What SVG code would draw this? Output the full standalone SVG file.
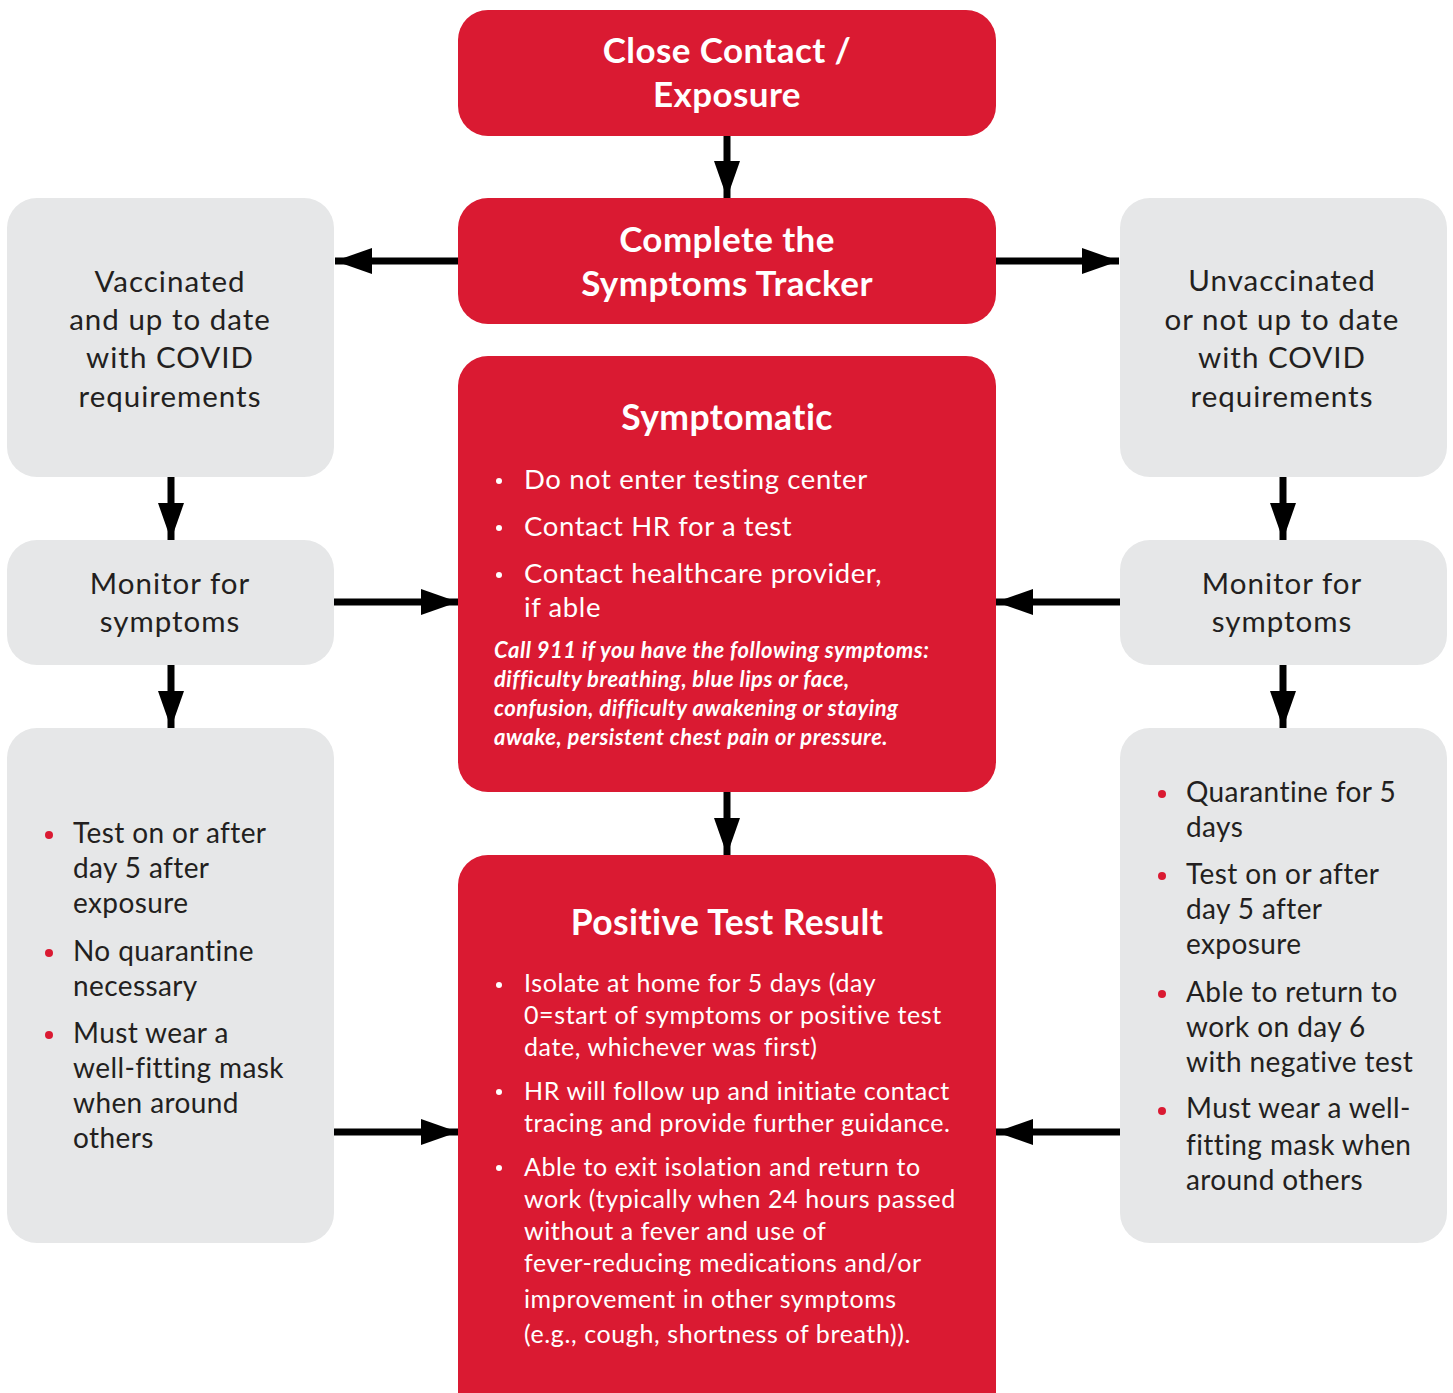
<svg xmlns="http://www.w3.org/2000/svg" width="1453" height="1393" viewBox="0 0 1453 1393">
<defs>
<style>
.red{fill:#DA1A32}
.gray{fill:#E6E7E8}
.title{font-family:Lato,"Noto Sans","Liberation Sans",sans-serif;font-weight:bold;fill:#fff;text-anchor:middle;letter-spacing:0.4px}
.gt{font-family:Lato,"Noto Sans","Liberation Sans",sans-serif;fill:#231F20;font-size:28px}
.gc{text-anchor:middle;font-size:29.5px;letter-spacing:1px}
.bl{font-size:28px;letter-spacing:0.4px}
.wt{font-family:Lato,"Noto Sans","Liberation Sans",sans-serif;fill:#fff}
.it{font-family:Lato,"Noto Sans","Liberation Sans",sans-serif;fill:#fff;font-style:italic;font-weight:bold;font-size:22px;letter-spacing:0.5px}
.conn{stroke:#000;stroke-width:7;fill:none;marker-end:url(#ah)}
</style>
<marker id="ah" markerUnits="userSpaceOnUse" markerWidth="37" markerHeight="26" refX="37" refY="13" orient="auto">
<path d="M0,0 L37,13 L0,26 z" fill="#000"/>
</marker>
</defs>
<rect width="1453" height="1393" fill="#fff"/>

<g id="connectors">
<line class="conn" x1="727" y1="136" x2="727" y2="198"/>
<line class="conn" x1="458" y1="261" x2="335" y2="261"/>
<line class="conn" x1="996" y1="261" x2="1119" y2="261"/>
<line class="conn" x1="171" y1="477" x2="171" y2="540"/>
<line class="conn" x1="1283" y1="477" x2="1283" y2="540"/>
<line class="conn" x1="334" y1="602" x2="458" y2="602"/>
<line class="conn" x1="1120" y1="602" x2="996" y2="602"/>
<line class="conn" x1="171" y1="665" x2="171" y2="728"/>
<line class="conn" x1="1283" y1="665" x2="1283" y2="728"/>
<line class="conn" x1="727" y1="792" x2="727" y2="855"/>
<line class="conn" x1="334" y1="1132" x2="458" y2="1132"/>
<line class="conn" x1="1120" y1="1132" x2="996" y2="1132"/>
</g>

<g id="close-contact">
<rect class="red" x="458" y="10" width="538" height="126" rx="30"/>
<text class="title" font-size="35" x="727" y="63">Close Contact /</text>
<text class="title" font-size="35" x="727" y="107">Exposure</text>
</g>

<g id="symptoms-tracker">
<rect class="red" x="458" y="198" width="538" height="126" rx="30"/>
<text class="title" font-size="35" x="727" y="252">Complete the</text>
<text class="title" font-size="35" x="727" y="296">Symptoms Tracker</text>
</g>

<g id="vaccinated">
<rect class="gray" x="7" y="198" width="327" height="279" rx="30"/>
<text class="gt gc" x="170" y="292">Vaccinated</text>
<text class="gt gc" x="170" y="330">and up to date</text>
<text class="gt gc" x="170" y="368">with COVID</text>
<text class="gt gc" x="170" y="407">requirements</text>
</g>

<g id="unvaccinated">
<rect class="gray" x="1120" y="198" width="327" height="279" rx="30"/>
<text class="gt gc" x="1282" y="291">Unvaccinated</text>
<text class="gt gc" x="1282" y="330">or not up to date</text>
<text class="gt gc" x="1282" y="368">with COVID</text>
<text class="gt gc" x="1282" y="407">requirements</text>
</g>

<g id="monitor-left">
<rect class="gray" x="7" y="540" width="327" height="125" rx="30"/>
<text class="gt gc" x="170" y="594">Monitor for</text>
<text class="gt gc" x="170" y="632">symptoms</text>
</g>

<g id="monitor-right">
<rect class="gray" x="1120" y="540" width="327" height="125" rx="30"/>
<text class="gt gc" x="1282" y="594">Monitor for</text>
<text class="gt gc" x="1282" y="632">symptoms</text>
</g>

<g id="symptomatic">
<rect class="red" x="458" y="356" width="538" height="436" rx="30"/>
<text class="title" font-size="35.5" x="727" y="430">Symptomatic</text>
<g class="wt" font-size="27.5" letter-spacing="0.6">
<circle cx="499" cy="481" r="3" fill="#fff"/>
<text x="524" y="489">Do not enter testing center</text>
<circle cx="499" cy="528" r="3" fill="#fff"/>
<text x="524" y="536">Contact HR for a test</text>
<circle cx="499" cy="575" r="3" fill="#fff"/>
<text x="524" y="583">Contact healthcare provider,</text>
<text x="524" y="617">if able</text>
</g>
<text class="it" x="494" y="658">Call 911 if you have the following symptoms:</text>
<text class="it" x="494" y="687">difficulty breathing, blue lips or face,</text>
<text class="it" x="494" y="716">confusion, difficulty awakening or staying</text>
<text class="it" x="494" y="745">awake, persistent chest pain or pressure.</text>
</g>

<g id="positive">
<rect class="red" x="458" y="855" width="538" height="570" rx="30"/>
<text class="title" font-size="35.5" x="727" y="935">Positive Test Result</text>
<g class="wt" font-size="25" letter-spacing="0.6">
<circle cx="499" cy="985" r="3" fill="#fff"/>
<text x="524" y="992">Isolate at home for 5 days (day</text>
<text x="524" y="1024">0=start of symptoms or positive test</text>
<text x="524" y="1056">date, whichever was first)</text>
<circle cx="499" cy="1092" r="3" fill="#fff"/>
<text x="524" y="1100">HR will follow up and initiate contact</text>
<text x="524" y="1132">tracing and provide further guidance.</text>
<circle cx="499" cy="1168" r="3" fill="#fff"/>
<text x="524" y="1176">Able to exit isolation and return to</text>
<text x="524" y="1208">work (typically when 24 hours passed</text>
<text x="524" y="1240">without a fever and use of</text>
<text x="524" y="1272">fever-reducing medications and/or</text>
<text x="524" y="1308">improvement in other symptoms</text>
<text x="524" y="1343">(e.g., cough, shortness of breath)).</text>
</g>
</g>

<g id="vaccinated-actions">
<rect class="gray" x="7" y="728" width="327" height="515" rx="30"/>
<g class="gt bl">
<circle cx="49" cy="835" r="4" fill="#DA1A32"/>
<text x="73" y="843">Test on or after</text>
<text x="73" y="878">day 5 after</text>
<text x="73" y="913">exposure</text>
<circle cx="49" cy="953" r="4" fill="#DA1A32"/>
<text x="73" y="961">No quarantine</text>
<text x="73" y="996">necessary</text>
<circle cx="49" cy="1035" r="4" fill="#DA1A32"/>
<text x="73" y="1043">Must wear a</text>
<text x="73" y="1078">well-fitting mask</text>
<text x="73" y="1113">when around</text>
<text x="73" y="1148">others</text>
</g>
</g>

<g id="unvaccinated-actions">
<rect class="gray" x="1120" y="728" width="327" height="515" rx="30"/>
<g class="gt bl">
<circle cx="1162" cy="794" r="4" fill="#DA1A32"/>
<text x="1186" y="802">Quarantine for 5</text>
<text x="1186" y="837">days</text>
<circle cx="1162" cy="876" r="4" fill="#DA1A32"/>
<text x="1186" y="884">Test on or after</text>
<text x="1186" y="919">day 5 after</text>
<text x="1186" y="954">exposure</text>
<circle cx="1162" cy="994" r="4" fill="#DA1A32"/>
<text x="1186" y="1002">Able to return to</text>
<text x="1186" y="1037">work on day 6</text>
<text x="1186" y="1072">with negative test</text>
<circle cx="1162" cy="1111" r="4" fill="#DA1A32"/>
<text x="1186" y="1118">Must wear a well-</text>
<text x="1186" y="1155">fitting mask when</text>
<text x="1186" y="1190">around others</text>
</g>
</g>
</svg>
